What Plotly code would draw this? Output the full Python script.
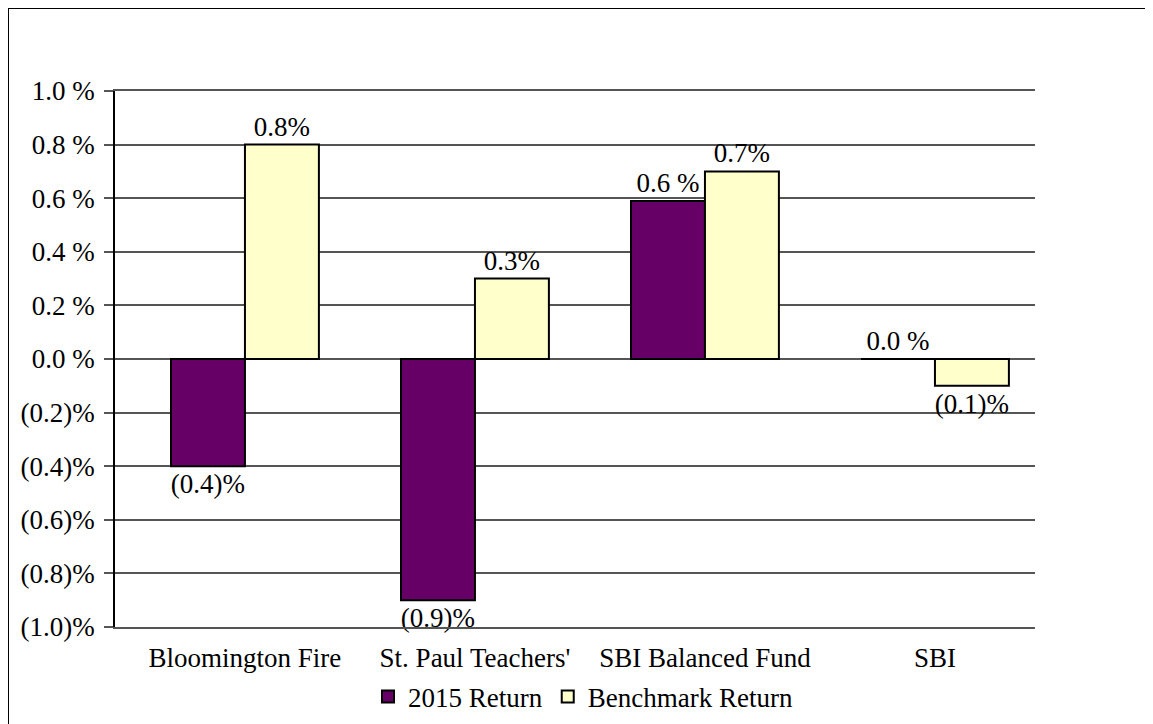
import plotly.graph_objects as go

categories = ["Bloomington Fire", "St. Paul Teachers'", "SBI Balanced Fund", "SBI"]
return_2015 = [-0.4, -0.9, 0.59, 0.0]
benchmark = [0.8, 0.3, 0.7, -0.1]
labels_2015 = ["(0.4)%", "(0.9)%", "0.6 %", "0.0 %"]
labels_bench = ["0.8%", "0.3%", "0.7%", "(0.1)%"]
tick_vals = [1.0, 0.8, 0.6, 0.4, 0.2, 0.0, -0.2, -0.4, -0.6, -0.8, -1.0]
tick_text = ["1.0 %", "0.8 %", "0.6 %", "0.4 %", "0.2 %", "0.0 %",
             "(0.2)%", "(0.4)%", "(0.6)%", "(0.8)%", "(1.0)%"]

FONT = "Liberation Serif"
FS = 27

# page has an 8px body margin; size the figure so it fills the window
OFF = 8
W, H = 1153 - OFF, 724 - OFF
L, T = 115 - OFF, 91 - OFF
R = W - (1035 - OFF)
B = H - (627 - OFF)
pw, ph = W - L - R, H - T - B


def px_x(v):  # page pixel -> paper x
    return (v - OFF - L) / pw


def px_y(v):  # page pixel -> paper y
    return (H - B - (v - OFF)) / ph


fig = go.Figure()
fig.add_trace(go.Bar(
    name="2015 Return", x=categories, y=return_2015,
    marker=dict(color="#660066", line=dict(color="black", width=2)),
    text=labels_2015, textposition="outside", constraintext="none",
    textfont=dict(family=FONT, size=FS, color="black"), cliponaxis=False,
))
fig.add_trace(go.Bar(
    name="Benchmark Return", x=categories, y=benchmark,
    marker=dict(color="#FFFFCC", line=dict(color="black", width=2)),
    text=labels_bench, textposition="outside", constraintext="none",
    textfont=dict(family=FONT, size=FS, color="black"), cliponaxis=False,
))

fig.update_layout(
    width=W, height=H,
    margin=dict(l=L, r=R, t=T, b=B, autoexpand=False),
    paper_bgcolor="white", plot_bgcolor="white",
    barmode="group", bargap=0.357, bargroupgap=0,
    font=dict(family=FONT, size=FS, color="black"),
    showlegend=True,
    legend=dict(orientation="h", x=px_x(583), xanchor="center",
                y=px_y(697), yanchor="middle",
                font=dict(family=FONT, size=FS, color="black"),
                itemwidth=30, tracegroupgap=0, bgcolor="rgba(0,0,0,0)"),
    shapes=[dict(type="rect", xref="paper", yref="paper",
                 x0=px_x(OFF), x1=px_x(1170), y0=px_y(740), y1=px_y(OFF),
                 line=dict(color="black", width=2), layer="below")],
)
fig.update_xaxes(
    range=[-0.565, 3.435],
    showgrid=False, ticks="", zeroline=False,
    showline=True, mirror=True, linecolor="#555555", linewidth=1.5,
    tickfont=dict(family=FONT, size=FS, color="black"),
    ticklabelstandoff=6,
)
fig.update_yaxes(
    range=[-1.0, 1.0], tickvals=tick_vals, ticktext=tick_text,
    showgrid=True, gridcolor="#555555", gridwidth=1.5,
    zeroline=True, zerolinecolor="#555555", zerolinewidth=1.5,
    showline=True, linecolor="black", linewidth=1.5,
    ticks="outside", ticklen=9, tickcolor="#555555", tickwidth=1.5,
    tickfont=dict(family=FONT, size=FS, color="black"),
    ticklabelstandoff=4,
)
fig.write_html("out.html")
